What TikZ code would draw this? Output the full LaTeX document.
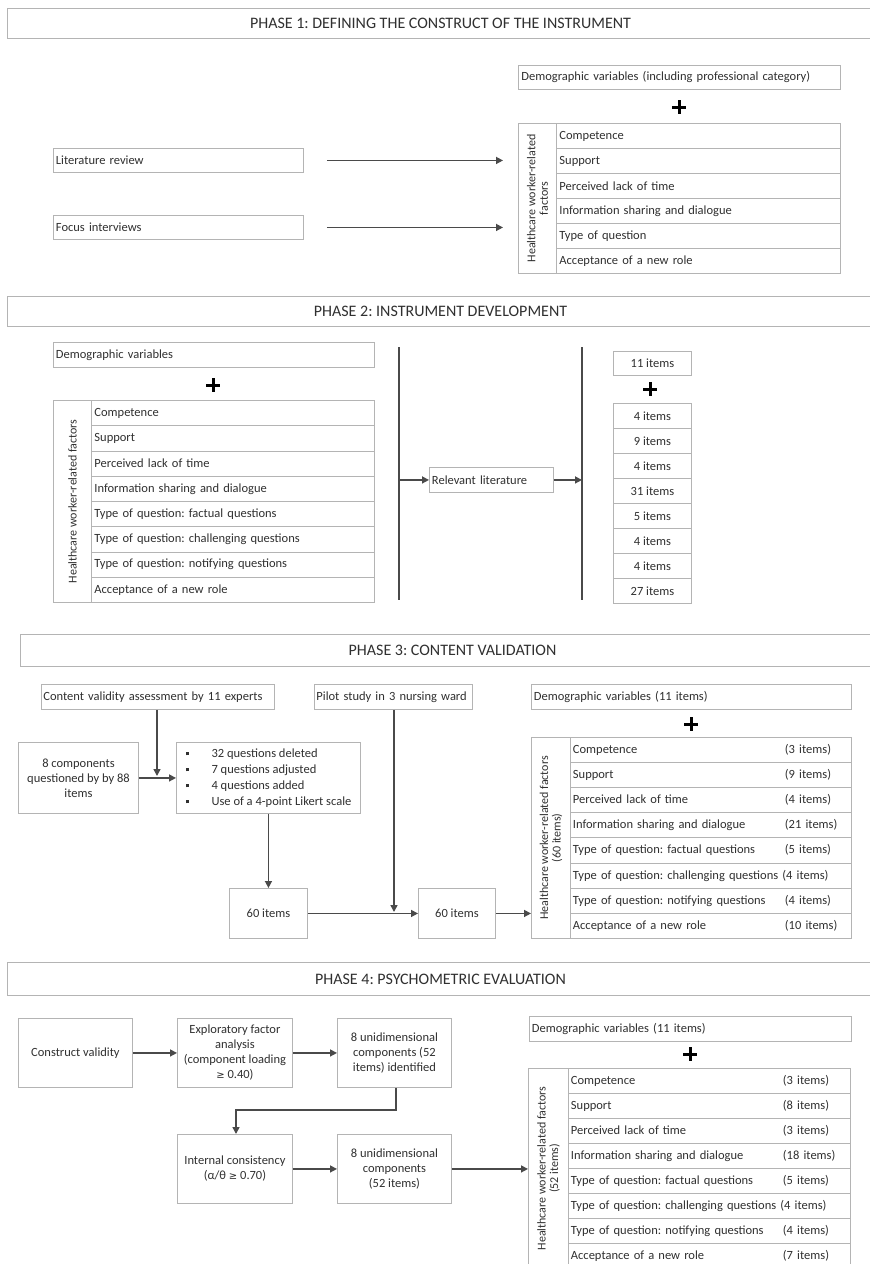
\documentclass[tikz,border=0pt]{standalone}
\usepackage{fontspec}
\setmainfont{Carlito}
\newfontfamily\dejavu{DejaVu Sans}
\usetikzlibrary{arrows.meta,calc}
\definecolor{bcol}{HTML}{B4B4B4}
\definecolor{tcol}{HTML}{303030}
\definecolor{acol}{HTML}{4A4A4A}
\newcommand{\sqb}{\makebox[26pt][l]{\rule[2pt]{3pt}{3pt}}}
\newcommand{\mygeq}{{\dejavu\fontsize{10}{11}\selectfont ≥}}
\frenchspacing
\begin{document}
\begin{tikzpicture}[x=1pt,y=-1pt,
  every node/.style={font=\fontsize{12.5}{15}\selectfont, text=tcol},
  bx/.style 2 args={draw=bcol, line width=0.9pt, minimum width=#1, minimum height=#2, inner sep=0pt, anchor=north west},
  lt/.style={text width=#1, align=left},
  ct/.style={align=center},
  hdr/.style={draw=bcol, line width=1pt, minimum width=866, minimum height=30, inner sep=0pt, anchor=north west, font=\fontsize{16}{18}\selectfont},
  arr/.style={draw=acol, line width=1.5pt, -{Triangle[length=7pt,width=7pt]}},
  ln/.style={draw=acol, line width=1.3pt},
  plus/.style={draw=black, line width=3pt}
]
\useasboundingbox (0,0) rectangle (870,1264);
\fill[white] (0,0) rectangle (870,1264);

% ---------------- PHASE 1 ----------------
\node[hdr] (h1) at (7,8) {PHASE 1: DEFINING THE CONSTRUCT OF THE INSTRUMENT};
\node[bx={322}{24}, lt=316pt] (p1demo) at (518,65) {Demographic variables (including professional category)};
\coordinate (pl1) at (679,107);
\draw[plus] ($(pl1)+(-7,0)$) -- ($(pl1)+(7,0)$) ($(pl1)+(0,-7)$) -- ($(pl1)+(0,7)$);
\node[bx={38}{150}] (p1lab) at (518,123) {};
\node[rotate=90, ct, font=\fontsize{12}{12.5}\selectfont] (p1labt) at (p1lab.center) {Healthcare worker-related\\factors};
\foreach \t [count=\i from 0] in {Competence, Support, Perceived lack of time, Information sharing and dialogue, Type of question, Acceptance of a new role}
  \node[bx={284}{25}, lt=278pt] (p1r\i) at (556,{123+25*\i}) {\t};
\node[bx={250}{24}, lt=245pt] (lit) at (53,148) {Literature review};
\node[bx={250}{24}, lt=245pt] (foc) at (53,215) {Focus interviews};
\coordinate (a1) at ($(lit.east)+(23,0)$);
\coordinate (a2) at ($(foc.east)+(23,0)$);
\draw[arr, shorten >=15pt] (a1) -- (a1 -| p1lab.west);
\draw[arr, shorten >=15pt] (a2) -- (a2 -| p1lab.west);

% ---------------- PHASE 2 ----------------
\node[hdr] (h2) at (7,296) {PHASE 2: INSTRUMENT DEVELOPMENT};
\node[bx={321}{25}, lt=316pt] (p2demo) at (53,342) {Demographic variables};
\coordinate (pl2) at (213,385);
\draw[plus] ($(pl2)+(-7,0)$) -- ($(pl2)+(7,0)$) ($(pl2)+(0,-7)$) -- ($(pl2)+(0,7)$);
\node[bx={38}{202}] (p2lab) at (53,400) {};
\node[rotate=90, ct, font=\fontsize{12}{12.5}\selectfont] (p2labt) at (p2lab.center) {Healthcare worker-related factors};
\foreach \t [count=\i from 0] in {Competence, Support, Perceived lack of time, Information sharing and dialogue, Type of question: factual questions, Type of question: challenging questions, Type of question: notifying questions, Acceptance of a new role}
  \node[bx={283}{25.25}, lt=277pt] (p2r\i) at (91,{400+25.25*\i}) {\t};
\coordinate (v1t) at (399,347); \coordinate (v1b) at (399,600);
\coordinate (v2t) at (582,347); \coordinate (v2b) at (582,600);
\draw[ln] (v1t) -- (v1b);
\draw[ln] (v2t) -- (v2b);
\node[bx={124}{25}, lt=119pt] (rel) at (429,467) {Relevant literature};
\draw[arr] (rel.west -| v1t) -- (rel.west);
\draw[arr] (rel.east) -- (rel.east -| v2t);
\node[bx={78}{24}] (i11) at (613,351) {11 items};
\coordinate (pl3) at (650,389);
\draw[plus] ($(pl3)+(-7,0)$) -- ($(pl3)+(7,0)$) ($(pl3)+(0,-7)$) -- ($(pl3)+(0,7)$);
\foreach \t [count=\i from 0] in {4 items, 9 items, 4 items, 31 items, 5 items, 4 items, 4 items, 27 items}
  \node[bx={78}{25}] (it\i) at (613,{403+25*\i}) {\t};

% ---------------- PHASE 3 ----------------
\node[hdr, minimum height=32, minimum width=864] (h3) at (20,634) {PHASE 3: CONTENT VALIDATION};
\node[bx={233}{25}, lt=229pt] (exp) at (41,684) {Content validity assessment by 11 experts};
\node[bx={158}{25}, lt=154pt] (pil) at (314,684) {Pilot study in 3 nursing ward};
\node[bx={320}{25}, lt=315pt] (p3demo) at (531,684) {Demographic variables (11 items)};
\coordinate (pl4) at (691,724);
\draw[plus] ($(pl4)+(-7,0)$) -- ($(pl4)+(7,0)$) ($(pl4)+(0,-7)$) -- ($(pl4)+(0,7)$);
\node[bx={120}{71}, ct] (comp) at (18,742) {8 components\\questioned by by 88\\items};
\node[bx={184}{71}, align=left, font=\fontsize{12.5}{16}\selectfont] (bul) at (176,742)
  {\sqb 32 questions deleted\\\sqb 7 questions adjusted\\\sqb 4 questions added\\\sqb Use of a 4-point Likert scale};
\draw[arr] (comp.east) -- (bul.west);
\coordinate (ex1) at (157,776);
\draw[arr] (exp.south -| ex1) -- (ex1);
\node[bx={78}{50}] (s1) at (229,888) {60 items};
\node[bx={77}{50}] (s2) at (418,888) {60 items};
\draw[arr] (bul.south -| s1.north) -- (s1.north);
\draw[arr] (s1.east) -- (s2.west);
\coordinate (pa) at (394,912);
\draw[arr] (pil.south -| pa) -- (pa);
\node[bx={39}{201}] (p3lab) at (531,737) {};
\node[rotate=90, ct, font=\fontsize{12}{12.5}\selectfont] (p3labt) at (p3lab.center) {Healthcare worker-related factors\\(60 items)};
\foreach \t/\n [count=\i from 0] in {Competence/(3 items), Support/(9 items), Perceived lack of time/(4 items), Information sharing and dialogue/(21 items), Type of question: factual questions/(5 items), Type of question: notifying questions/(4 items), Acceptance of a new role/(10 items)}
  {\pgfmathtruncatemacro{\k}{\i<5 ? \i : \i+1}
   \node[bx={281}{25.1}, lt=276pt] (p3r\k) at (570,{737+25.1*\k}) {\makebox[212pt][l]{\t}\n};}
\node[bx={281}{25.1}, lt=276pt] (p3r5) at (570,{737+25.1*5}) {Type of question: challenging questions (4 items)};
\draw[arr] (s2.east) -- (s2.east -| p3lab.west);

% ---------------- PHASE 4 ----------------
\node[hdr, minimum height=33] (h4) at (7,962) {PHASE 4: PSYCHOMETRIC EVALUATION};
\node[bx={114}{69}, ct] (cv) at (18,1018) {Construct validity};
\node[bx={115}{69}, ct] (efa) at (177,1018) {Exploratory factor\\analysis\\(component loading\\\mygeq\ 0.40)};
\node[bx={114}{69}, ct] (uni1) at (337,1018) {8 unidimensional\\components (52\\items) identified};
\node[bx={115}{69}, ct] (ic) at (177,1134) {Internal consistency\\(α/θ \mygeq\ 0.70)};
\node[bx={114}{69}, ct] (uni2) at (337,1134) {8 unidimensional\\components\\(52 items)};
\draw[arr] (cv.east) -- (efa.west);
\draw[arr] (efa.east) -- (uni1.west);
\draw[arr] (ic.east) -- (uni2.west);
\coordinate (bend1) at (396,1110);
\coordinate (bend2) at (236,1110);
\draw[arr] (uni1.south -| bend1) -- (bend1) -- (bend2) -- (ic.north -| bend2);
\node[bx={322}{25}, lt=317pt] (p4demo) at (529,1016) {Demographic variables (11 items)};
\coordinate (pl5) at (690,1054);
\draw[plus] ($(pl5)+(-7,0)$) -- ($(pl5)+(7,0)$) ($(pl5)+(0,-7)$) -- ($(pl5)+(0,7)$);
\node[bx={40}{200}] (p4lab) at (528,1068) {};
\node[rotate=90, ct, font=\fontsize{12}{12.5}\selectfont] (p4labt) at (p4lab.center) {Healthcare worker-related factors\\(52 items)};
\foreach \t/\n [count=\i from 0] in {Competence/(3 items), Support/(8 items), Perceived lack of time/(3 items), Information sharing and dialogue/(18 items), Type of question: factual questions/(5 items), Type of question: notifying questions/(4 items), Acceptance of a new role/(7 items)}
  {\pgfmathtruncatemacro{\k}{\i<5 ? \i : \i+1}
   \node[bx={282}{25}, lt=277pt] (p4r\k) at (568,{1068+25*\k}) {\makebox[212pt][l]{\t}\n};}
\node[bx={282}{25}, lt=277pt] (p4r5) at (568,{1068+25*5}) {Type of question: challenging questions (4 items)};
\draw[arr] (uni2.east) -- (uni2.east -| p4lab.west);
\end{tikzpicture}
\end{document}
